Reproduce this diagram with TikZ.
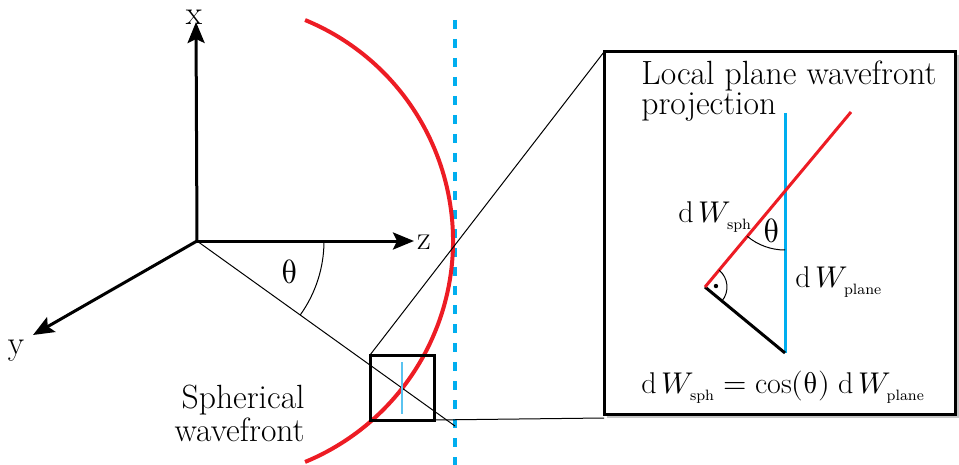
\documentclass[tikz,border=0pt]{standalone}
\usepackage{unicode-math}
\usetikzlibrary{arrows.meta}
\definecolor{wred}{RGB}{237,28,36}
\definecolor{wblue}{RGB}{0,174,239}
\definecolor{lblue}{RGB}{90,195,240}
\newcommand{\dW}[1]{\mathrm{d}\,W_{\scriptscriptstyle\mathrm{#1}}}
\begin{document}
\begin{tikzpicture}[x=0.5pt,y=-0.5pt,
  axis/.style={line width=1.5pt,-{Stealth[length=10.5pt,width=8.5pt,inset=2pt]}},
  thinline/.style={line width=0.5pt},
  boxline/.style={line width=1.5pt},
  lbl/.style={font=\fontsize{16.8}{15}\selectfont,inner sep=0pt},
  mlbl/.style={font=\fontsize{15}{15}\selectfont,inner sep=0pt}]
\useasboundingbox (0,0) rectangle (959,465);
% coordinates
\coordinate (O) at (197,241);
\coordinate (xe) at (196,22);
\coordinate (ze) at (414,241);
\coordinate (ye) at (33,335);
\coordinate (te) at (455,426);
\coordinate (sb1) at (370,355);
\coordinate (sb2) at (434,420);
\coordinate (bb1) at (604,52);
\coordinate (bb2) at (955,414);
\coordinate (bbsw) at (604,418);
% dashed plane wavefront
\draw[wblue,line width=2pt,dash pattern=on 4.5pt off 5pt] (455,20) -- (455,465);
% spherical wavefront
\draw[wred,line width=2pt] (214,241) ++(-67.6:239) arc[start angle=-67.6,end angle=67.6,radius=239];
% axes
\draw[axis] (O) -- (xe);
\draw[axis] (O) -- (ze);
\draw[axis] (O) -- (ye);
\node[lbl] (xl) at (194,17) {x};
\node[lbl] (zl) at (424,242) {z};
\node[lbl] (yl) at (16,351) {y};
% theta direction
\draw[thinline] (O) -- (te);
\draw[thinline] (O) ++(0:127) arc[start angle=0,end angle=35.6,radius=127];
\node[lbl] (th1) at (290,272) {$\uptheta$};
% small box
\draw[lblue,line width=0.8pt] (402,362) -- (402,414);
\draw[boxline] (sb1) rectangle (sb2);
\draw[thinline] (sb1) -- (bb1);
\draw[thinline] (sb2) -- (bbsw);
\node[lbl,align=right,anchor=north east] (sw) at (305,385) {Spherical\\wavefront};
% big box with faint shadow
\draw[gray!45,line width=1pt] ([shift={(3,3)}]bb1 -| bb2) -- ([shift={(3,3)}]bb2) -- ([shift={(3,3)}]bb2 -| bb1);
\draw[boxline] (bb1) rectangle (bb2);
\node[lbl,anchor=base west] (lp1) at (641,85) {Local plane wavefront};
\node[lbl,anchor=base west] (lp2) at (641,115) {projection};
\coordinate (P) at (705,287);
\coordinate (Rt) at (851,112);
\coordinate (Bt) at (785,113);
\coordinate (Bb) at (785,353);
\coordinate (I) at (785,191);
\draw[wblue,line width=1.5pt] (Bt) -- (Bb);
\draw[line width=1.5pt] (P) -- (Bb);
\draw[wred,line width=1.5pt] (P) -- (Rt);
\draw[thinline] (I) ++(90:59) arc[start angle=90,end angle=129.8,radius=59];
\draw[thinline] (P) ++(-50.2:22) arc[start angle=-50.2,end angle=39.5,radius=22];
\fill (P) ++(-5:11) circle[radius=1.1pt];
\node[lbl] (th2) at (772,231) {$\uptheta$};
\node[mlbl,anchor=base west] (dws) at (678,222) {$\dW{sph}$};
\node[mlbl,anchor=base west] (dwp) at (795,287) {$\dW{plane}$};
\node[mlbl,anchor=base west] (eq) at (641,393) {$\dW{sph}=\cos(\uptheta)\;\dW{plane}$};
\end{tikzpicture}
\end{document}
